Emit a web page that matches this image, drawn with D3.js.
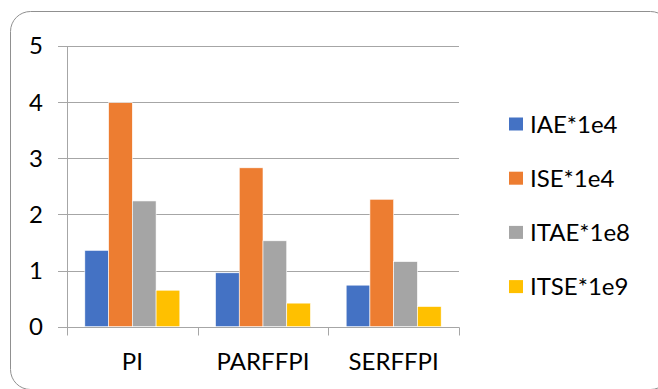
<!DOCTYPE html>
<html>
<head>
<meta charset="utf-8">
<script src="https://cdn.jsdelivr.net/npm/d3@7"></script>
<style>
  html, body { margin: 0; padding: 0; background: #fff; }
  svg { display: block; font-family: Lato, "Open Sans", sans-serif; }
</style>
</head>
<body>
<svg id="chart" width="658" height="389"></svg>
<script>
// Controllers compared on four error indices (scaled)
const categories = ["PI", "PARFFPI", "SERFFPI"];
const seriesNames = ["IAE*1e4", "ISE*1e4", "ITAE*1e8", "ITSE*1e9"];
const iae  = [1.36, 0.96, 0.74];
const ise  = [3.99, 2.83, 2.27];
const itae = [2.24, 1.53, 1.16];
const itse = [0.65, 0.42, 0.36];
const yTicks = [0, 1, 2, 3, 4, 5];
const colors = ["#4472C4", "#ED7D31", "#A5A5A5", "#FFC000"];

const seriesValues = [iae, ise, itae, itse];

const svg = d3.select("#chart");
const textColor = "#000";

// Rounded chart frame (right and bottom edges run past the canvas)
svg.append("rect")
  .attr("x", 10.5).attr("y", 11.5)
  .attr("width", 660).attr("height", 378)
  .attr("rx", 20).attr("ry", 20)
  .attr("fill", "none")
  .attr("stroke", "#909090")
  .attr("stroke-width", 1);

const plot = { left: 67, right: 459, top: 46, bottom: 326.7 };

const x = d3.scaleBand()
  .domain(categories)
  .range([plot.left, plot.right])
  .paddingInner(0).paddingOuter(0);

const xInner = d3.scaleBand()
  .domain(seriesNames)
  .range([0, x.bandwidth()])
  .paddingInner(0).paddingOuter(0.751);

const y = d3.scaleLinear().domain([0, 5]).range([plot.bottom, plot.top]);

const gridColor = "#a6a6a6";

// Horizontal gridlines with short tick stubs left of the axis
svg.append("g")
  .selectAll("line")
  .data(yTicks)
  .join("line")
  .attr("x1", plot.left - 9)
  .attr("x2", plot.right)
  .attr("y1", d => Math.round(y(d)) + 0.5)
  .attr("y2", d => Math.round(y(d)) + 0.5)
  .attr("stroke", gridColor)
  .attr("stroke-width", 1);

// Y axis line
svg.append("line")
  .attr("x1", plot.left + 0.5).attr("x2", plot.left + 0.5)
  .attr("y1", y(5)).attr("y2", Math.round(y(0)) + 0.5)
  .attr("stroke", gridColor);

// Y tick labels
svg.append("g")
  .selectAll("text")
  .data(yTicks)
  .join("text")
  .attr("x", 43)
  .attr("y", d => y(d))
  .attr("dy", "0.35em")
  .attr("text-anchor", "end")
  .attr("font-size", 24)
  .attr("fill", textColor)
  .text(d => d);

// Bars
const groups = svg.append("g")
  .selectAll("g")
  .data(categories)
  .join("g")
  .attr("transform", d => `translate(${x(d)},0)`);

groups.selectAll("rect")
  .data((c, ci) => seriesNames.map((s, si) => ({ s, si, v: seriesValues[si][ci] })))
  .join("rect")
  .attr("x", d => xInner(d.s))
  .attr("width", xInner.bandwidth())
  .attr("y", d => y(d.v))
  .attr("height", d => y(0) - y(d.v))
  .attr("fill", d => colors[d.si])
  .attr("stroke", "#fff")
  .attr("stroke-width", 0.6);

// X axis line and category dividers
const x0 = Math.round(y(0)) + 0.5;
svg.append("line")
  .attr("x1", plot.left).attr("x2", plot.right + 0.5)
  .attr("y1", x0).attr("y2", x0)
  .attr("stroke", gridColor);

const dividers = categories.map(c => x(c)).concat([x(categories[categories.length - 1]) + x.bandwidth()]);
svg.append("g")
  .selectAll("line")
  .data(dividers)
  .join("line")
  .attr("x1", d => Math.round(d) + 0.5)
  .attr("x2", d => Math.round(d) + 0.5)
  .attr("y1", x0)
  .attr("y2", x0 + 8)
  .attr("stroke", gridColor);

// Category labels
svg.append("g")
  .selectAll("text")
  .data(categories)
  .join("text")
  .attr("x", d => x(d) + x.bandwidth() / 2)
  .attr("y", 369.5)
  .attr("text-anchor", "middle")
  .attr("font-size", 24)
  .attr("fill", textColor)
  .text(d => d);

// Legend
const legend = svg.append("g")
  .selectAll("g")
  .data(seriesNames)
  .join("g")
  .attr("transform", (d, i) => `translate(509,${124 + i * 54.2})`);

legend.append("rect")
  .attr("x", 0).attr("y", -6.5)
  .attr("width", 14).attr("height", 13)
  .attr("fill", (d, i) => colors[i]);

legend.append("text")
  .attr("x", 21)
  .attr("y", 0)
  .attr("dy", "0.36em")
  .attr("font-size", 24)
  .attr("fill", textColor)
  .text(d => d);
</script>
</body>
</html>
